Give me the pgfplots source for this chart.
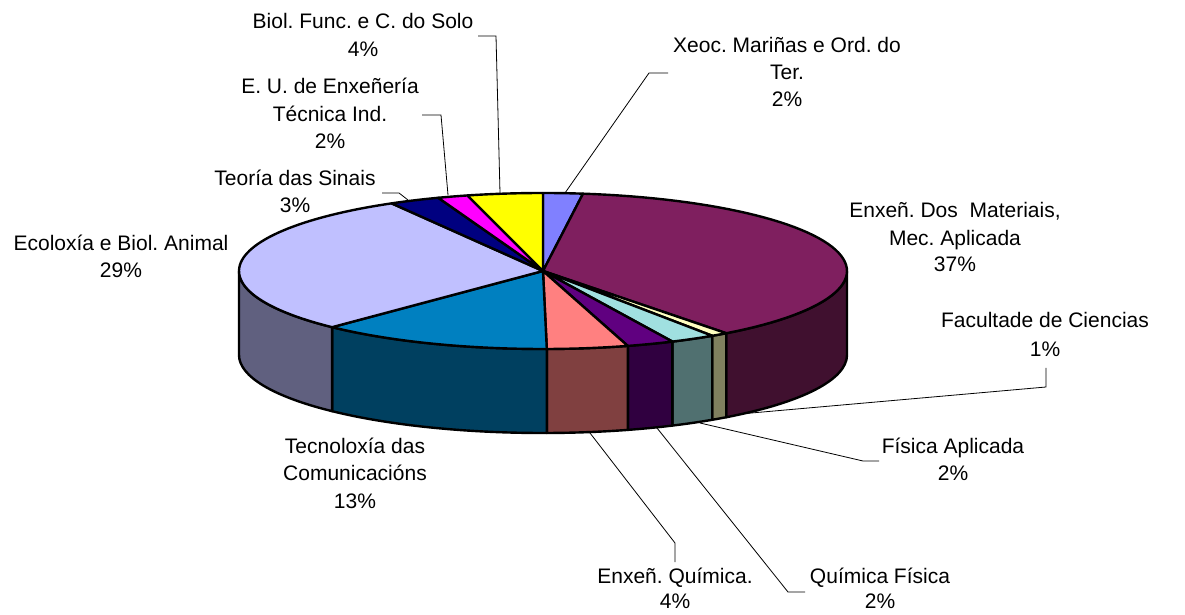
\documentclass[border=0pt]{standalone}
\usepackage{pgfplots}
\pgfplotsset{compat=1.18}
\usepackage{fontspec}
\setmainfont{Liberation Sans}
\definecolor{cA}{HTML}{8080FF}
\definecolor{cB}{HTML}{7F1F5F}\definecolor{sB}{HTML}{40102F}
\definecolor{cC}{HTML}{FFFFC0}\definecolor{sC}{HTML}{80805F}
\definecolor{cD}{HTML}{A0E0E0}\definecolor{sD}{HTML}{507070}
\definecolor{cE}{HTML}{600080}\definecolor{sE}{HTML}{300040}
\definecolor{cF}{HTML}{FF8080}\definecolor{sF}{HTML}{804040}
\definecolor{cG}{HTML}{0080C0}\definecolor{sG}{HTML}{004060}
\definecolor{cH}{HTML}{C0C0FF}\definecolor{sH}{HTML}{60607F}
\definecolor{cI}{HTML}{000080}
\definecolor{cJ}{HTML}{FF00FF}
\definecolor{cK}{HTML}{FFFF00}
\newcommand\lbl[3]{\node[anchor=base,inner sep=0pt] at (axis cs:#1,#2) {#3};}
\begin{document}
\frenchspacing
\fontsize{21bp}{27bp}\selectfont
\begin{tikzpicture}
% shares (percent), clockwise from 12 o'clock
\def\vA{2.1}  % Xeoc. Marinas
\def\vB{37.6} % Enxen. Dos Materiais
\def\vC{0.9}  % Facultade de Ciencias
\def\vD{2.4}  % Fisica Aplicada
\def\vE{2.5}  % Quimica Fisica
\def\vF{4.3}  % Enxen. Quimica
\def\vG{12.4} % Tecnoloxia das Comunicacions
\def\vH{29.5} % Ecoloxia e Biol. Animal
\def\vI{2.7}  % Teoria das Sinais
\def\vJ{1.6}  % E. U. de Enxeneria
\def\vK{4.0}  % Biol. Func.
\pgfmathsetmacro\tA{90}
\pgfmathsetmacro\tB{\tA-3.6*\vA}
\pgfmathsetmacro\tC{\tB-3.6*\vB}
\pgfmathsetmacro\tD{\tC-3.6*\vC}
\pgfmathsetmacro\tE{\tD-3.6*\vD}
\pgfmathsetmacro\tF{\tE-3.6*\vE}
\pgfmathsetmacro\tG{\tF-3.6*\vF}
\pgfmathsetmacro\tH{\tG-3.6*\vG}
\pgfmathsetmacro\tI{\tH-3.6*\vH}
\pgfmathsetmacro\tJ{\tI-3.6*\vI}
\pgfmathsetmacro\tK{\tJ-3.6*\vJ}
\pgfmathsetmacro\tL{\tK-3.6*\vK}
\begin{axis}[hide axis, scale only axis, width=1185bp, height=614bp,
  xmin=0, xmax=1185, ymin=0, ymax=614, clip=false, enlargelimits=false,
  every axis plot/.append style={draw=black, line width=2.4bp, line join=round, samples=60}]
\coordinate (ll) at (axis cs:0,0);
\coordinate (ur) at (axis cs:1185,614);
% ---- sides (front half)
\addplot[fill=sB, domain=\tC:0] ({543+304*cos(x)},{343+78*sin(x)}) -- ++(0,-84bp) arc[start angle=0, end angle=\tC, x radius=304bp, y radius=78bp] -- cycle;
\addplot[fill=sC, domain=\tD:\tC] ({543+304*cos(x)},{343+78*sin(x)}) -- ++(0,-84bp) arc[start angle=\tC, end angle=\tD, x radius=304bp, y radius=78bp] -- cycle;
\addplot[fill=sD, domain=\tE:\tD] ({543+304*cos(x)},{343+78*sin(x)}) -- ++(0,-84bp) arc[start angle=\tD, end angle=\tE, x radius=304bp, y radius=78bp] -- cycle;
\addplot[fill=sE, domain=\tF:\tE] ({543+304*cos(x)},{343+78*sin(x)}) -- ++(0,-84bp) arc[start angle=\tE, end angle=\tF, x radius=304bp, y radius=78bp] -- cycle;
\addplot[fill=sF, domain=\tG:\tF] ({543+304*cos(x)},{343+78*sin(x)}) -- ++(0,-84bp) arc[start angle=\tF, end angle=\tG, x radius=304bp, y radius=78bp] -- cycle;
\addplot[fill=sG, domain=\tH:\tG] ({543+304*cos(x)},{343+78*sin(x)}) -- ++(0,-84bp) arc[start angle=\tG, end angle=\tH, x radius=304bp, y radius=78bp] -- cycle;
\addplot[fill=sH, domain=-180:\tH] ({543+304*cos(x)},{343+78*sin(x)}) -- ++(0,-84bp) arc[start angle=\tH, end angle=-180, x radius=304bp, y radius=78bp] -- cycle;
% ---- tops
\addplot[fill=cA, domain=\tB:\tA] ({543+304*cos(x)},{343+78*sin(x)}) -- (axis cs:543,343) -- cycle;
\addplot[fill=cB, domain=\tC:\tB] ({543+304*cos(x)},{343+78*sin(x)}) -- (axis cs:543,343) -- cycle;
\addplot[fill=cC, domain=\tD:\tC] ({543+304*cos(x)},{343+78*sin(x)}) -- (axis cs:543,343) -- cycle;
\addplot[fill=cD, domain=\tE:\tD] ({543+304*cos(x)},{343+78*sin(x)}) -- (axis cs:543,343) -- cycle;
\addplot[fill=cE, domain=\tF:\tE] ({543+304*cos(x)},{343+78*sin(x)}) -- (axis cs:543,343) -- cycle;
\addplot[fill=cF, domain=\tG:\tF] ({543+304*cos(x)},{343+78*sin(x)}) -- (axis cs:543,343) -- cycle;
\addplot[fill=cG, domain=\tH:\tG] ({543+304*cos(x)},{343+78*sin(x)}) -- (axis cs:543,343) -- cycle;
\addplot[fill=cH, domain=\tI:\tH] ({543+304*cos(x)},{343+78*sin(x)}) -- (axis cs:543,343) -- cycle;
\addplot[fill=cI, domain=\tJ:\tI] ({543+304*cos(x)},{343+78*sin(x)}) -- (axis cs:543,343) -- cycle;
\addplot[fill=cJ, domain=\tK:\tJ] ({543+304*cos(x)},{343+78*sin(x)}) -- (axis cs:543,343) -- cycle;
\addplot[fill=cK, domain=\tL:\tK] ({543+304*cos(x)},{343+78*sin(x)}) -- (axis cs:543,343) -- cycle;
% ---- leader lines
\draw[line width=0.8bp] (axis cs:478,578) -- (axis cs:496,578) -- (axis cs:500,421);
\draw[line width=0.8bp] (axis cs:422,499) -- (axis cs:441,499) -- (axis cs:448,419);
\draw[line width=0.8bp] (axis cs:382,421) -- (axis cs:399,421) -- (axis cs:408,414);
\draw[line width=0.8bp] (axis cs:668,541) -- (axis cs:649,541) -- (axis cs:565,421);
\draw[line width=0.8bp] (axis cs:1046,246) -- (axis cs:1046,227) -- (axis cs:740,200);
\draw[line width=0.8bp] (axis cs:879,153) -- (axis cs:863,153) -- (axis cs:700,191);
\draw[line width=0.8bp] (axis cs:805,22) -- (axis cs:788,22) -- (axis cs:657,186);
\draw[line width=0.8bp] (axis cs:675,52) -- (axis cs:675,71) -- (axis cs:590,181);
% ---- labels
\lbl{363}{585}{Biol. Func. e C. do Solo}
\lbl{363}{557}{4\%}
\lbl{330}{520}{E. U. de Enxeñería}
\lbl{330}{492}{Técnica Ind.}
\lbl{330}{465}{2\%}
\lbl{295}{428}{Teoría das Sinais}
\lbl{295}{401}{3\%}
\lbl{121}{363}{Ecoloxía e Biol. Animal}
\lbl{121}{336}{29\%}
\lbl{787}{561}{Xeoc. Mariñas e Ord. do}
\lbl{787}{534}{Ter.}
\lbl{787}{507}{2\%}
\lbl{955}{396}{Enxeñ. Dos~ Materiais,}
\lbl{955}{368}{Mec. Aplicada}
\lbl{955}{342}{37\%}
\lbl{1045}{286}{Facultade de Ciencias}
\lbl{1045}{257}{1\%}
\lbl{953}{161}{Física Aplicada}
\lbl{953}{134}{2\%}
\lbl{880}{31}{Química Física}
\lbl{880}{6}{2\%}
\lbl{675}{31}{Enxeñ. Química.}
\lbl{675}{6}{4\%}
\lbl{355}{161}{Tecnoloxía das}
\lbl{355}{134}{Comunicacións}
\lbl{355}{106}{13\%}
\end{axis}
\pgfresetboundingbox
\path (ll) rectangle (ur);
\end{tikzpicture}
\end{document}
